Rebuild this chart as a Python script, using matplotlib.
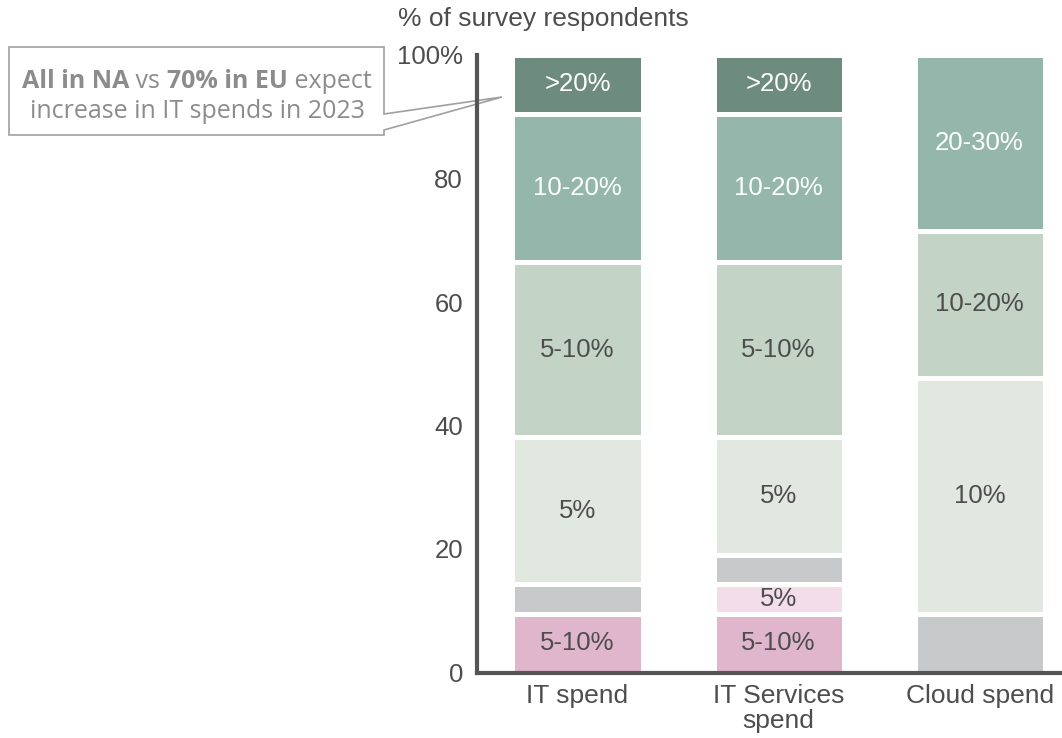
import matplotlib
matplotlib.use("Agg")
import matplotlib.pyplot as plt
import numpy as np
from matplotlib.patches import Polygon

plt.rcParams['font.family'] = ['Liberation Sans', 'DejaVu Sans']

categories = ['IT spend', 'IT Services\nspend', 'Cloud spend']

# stacked shares, bottom to top (% of survey respondents)
dec_large = [9.5, 9.5, 0]
dec_small = [0, 4.8, 0]
no_change = [4.8, 4.7, 9.5]
inc_1 = [23.8, 19.1, 38.2]
inc_2 = [28.4, 28.4, 23.8]
inc_3 = [24.0, 24.0, 28.5]
inc_4 = [9.5, 9.5, 0]

dec_large_lbl = ['5-10%', '5-10%', '']
dec_small_lbl = ['', '5%', '']
no_change_lbl = ['', '', '']
inc_1_lbl = ['5%', '5%', '10%']
inc_2_lbl = ['5-10%', '5-10%', '10-20%']
inc_3_lbl = ['10-20%', '10-20%', '20-30%']
inc_4_lbl = ['>20%', '>20%', '']

yticks = [0, 20, 40, 60, 80, 100]
ytick_labels = ['0', '20', '40', '60', '80', '100%']

segments = [
    (dec_large, dec_large_lbl, '#dfb6cb', '#4d4d4d'),
    (dec_small, dec_small_lbl, '#f2dde8', '#4d4d4d'),
    (no_change, no_change_lbl, '#c8c9cb', '#4d4d4d'),
    (inc_1, inc_1_lbl, '#e0e8df', '#4d4d4d'),
    (inc_2, inc_2_lbl, '#c3d3c6', '#4d4d4d'),
    (inc_3, inc_3_lbl, '#95b6ab', 'white'),
    (inc_4, inc_4_lbl, '#6e8b80', 'white'),
]

W, H = 1062, 738
fig = plt.figure(figsize=(W / 100, H / 100), dpi=100)
ax = fig.add_axes([477 / W, 1 - 672.5 / H, 1 - 477 / W, (672.5 - 55) / H])
ax.patch.set_visible(False)

x = np.arange(len(categories))
bottom = np.zeros(len(categories))
for vals, lbls, col, tcol in segments:
    vals = np.array(vals, dtype=float)
    ax.bar(x, vals, width=0.647, bottom=bottom, color=col,
           edgecolor='white', linewidth=3.6, zorder=2)
    for xi, v, b, t in zip(x, vals, bottom, lbls):
        if t and v > 0:
            ax.text(xi, b + v / 2, t, ha='center', va='center',
                    fontsize=18.5, color=tcol, zorder=3)
    bottom += vals

ax.set_xlim(-0.5, 2.41)
ax.set_ylim(0, 100)
ax.set_yticks(yticks)
ax.set_yticklabels(ytick_labels)
ax.set_xticks(x)
ax.set_xticklabels(categories, linespacing=1.05)
ax.tick_params(axis='both', length=0, colors='#4d4d4d')
ax.tick_params(axis='y', pad=10, labelsize=18.5)
ax.tick_params(axis='x', pad=8, labelsize=19)
for s in ['top', 'right']:
    ax.spines[s].set_visible(False)
for s in ['left', 'bottom']:
    ax.spines[s].set_color('#555555')
    ax.spines[s].set_linewidth(3)
    ax.spines[s].set_zorder(5)

fig.text(398 / W, 1 - 19 / H, '% of survey respondents', fontsize=19,
         color='#4d4d4d', va='center', ha='left')

# callout box pointing at the IT spend bar
pts = [(9, 47), (384, 47), (384, 114), (502, 97), (384, 130), (384, 135), (9, 135)]
callout = Polygon([(px / W, 1 - py / H) for px, py in pts], closed=True,
                  transform=fig.transFigure, facecolor='white',
                  edgecolor='#a0a0a0', linewidth=1.2, zorder=-1)
fig.patches.append(callout)

gray = '#8c8c8c'
afont = ['Open Sans', 'DejaVu Sans']
pieces = [('All in NA', 'bold'), (' vs ', 'normal'),
          ('70% in EU', 'bold'), (' expect', 'normal')]
prev = fig.text(22 / W, 1 - 81 / H, pieces[0][0], fontsize=18, color=gray,
                fontweight=pieces[0][1], family=afont, va='center', ha='left')
for txt, wt in pieces[1:]:
    prev = ax.annotate(txt, xy=(1, 0), xycoords=prev, va='bottom', ha='left',
                       fontsize=18, color=gray, fontweight=wt, family=afont,
                       annotation_clip=False)
fig.text(197 / W, 1 - 112 / H, 'increase in IT spends in 2023', fontsize=18,
         color=gray, family=afont, va='center', ha='center')

fig.savefig('out.png', dpi=100)
